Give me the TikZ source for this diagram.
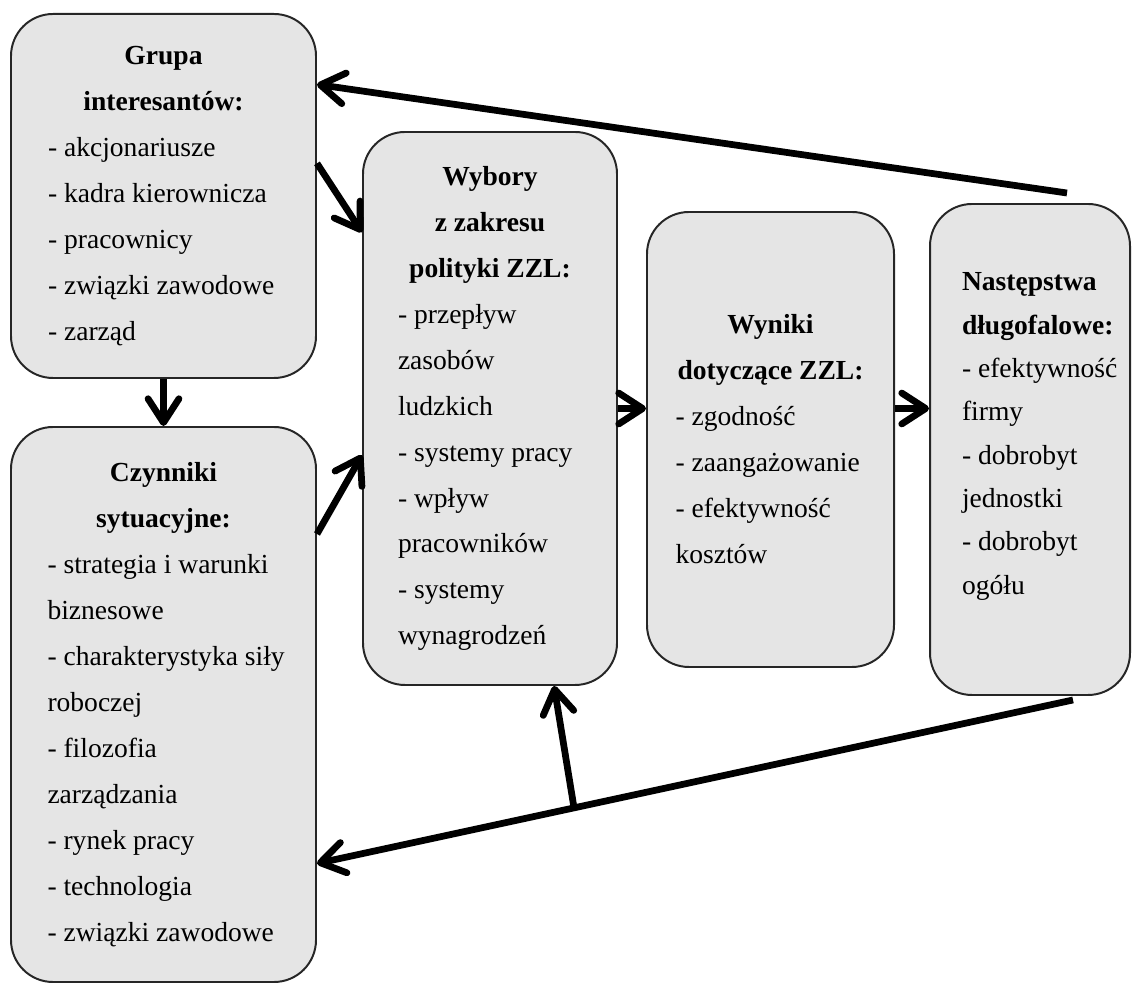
\documentclass[tikz,border=0pt]{standalone}
\usepackage{fontspec}
\setmainfont{Liberation Serif}
\usetikzlibrary{positioning, arrows.meta, calc}
\hyphenpenalty=10000
\exhyphenpenalty=10000

\begin{document}
\begin{tikzpicture}[font=\fontsize{19.6}{32.7}\selectfont]

        % Styles
        \tikzstyle{box} = [draw=black!85, fill=black!10, line width=1.4pt, rounded corners=1.05cm, inner sep=0pt, align=flush left]
        \tikzstyle{arr} = [line width=4.8pt, -{Straight Barb[round, length=17pt, width=22pt]}]

        % Frame
        \useasboundingbox (0,0) rectangle (28.3,24.6);

        % --- LEFT: STAKEHOLDERS AND SITUATION ---
        \node[box, minimum width=7.625cm, minimum height=9.1cm, text width=5.775cm] (A) at (4.0875, 19.7) {
            {\centering\textbf{Grupa}\\ \textbf{interesantów:}\par}
            - akcjonariusze\\
            \mbox{- kadra kierownicza}\\
            - pracownicy\\
            \mbox{- związki zawodowe}\\
            - zarząd};

        \node[box, minimum width=7.625cm, minimum height=13.875cm, text width=5.8cm] (B) at (4.0875, 6.9875) {
            {\centering\textbf{Czynniki}\\ \textbf{sytuacyjne:}\par}
            \mbox{- strategia i warunki}\\
            biznesowe\\
            \mbox{- charakterystyka siły}\\
            roboczej\\
            - filozofia\\
            zarządzania\\
            - rynek pracy\\
            - technologia\\
            \mbox{- związki zawodowe}};

        % --- MIDDLE: POLICY CHOICES AND OUTCOMES ---
        \node[box, minimum width=6.35cm, minimum height=13.825cm, text width=4.6cm] (C) at (12.25, 14.3875) {
            {\centering\textbf{Wybory}\\ \textbf{z zakresu}\\ \textbf{polityki ZZL:}\par}
            - przepływ\\
            zasobów\\
            ludzkich\\
            \mbox{- systemy pracy}\\
            - wpływ\\
            pracowników\\
            - systemy\\
            wynagrodzeń};

        \node[box, minimum width=6.175cm, minimum height=11.375cm, text width=4.75cm] (D) at (19.2625, 13.6125) {
            {\centering\textbf{Wyniki}\\ \textbf{dotyczące ZZL:}\par}
            - zgodność\\
            \mbox{- zaangażowanie}\\
            - efektywność\\
            kosztów};

        % --- RIGHT: LONG-TERM CONSEQUENCES ---
        \node[box, minimum width=5.0cm, minimum height=12.275cm, text width=3.4cm, font=\fontsize{19.6}{30.8}\selectfont] (E) at (25.75, 13.3625) {
            \mbox{\textbf{Następstwa}}\\
            \mbox{\textbf{długofalowe:}}\\
            \mbox{- efektywność}\\
            firmy\\
            - dobrobyt\\
            jednostki\\
            - dobrobyt\\
            ogółu\rule[-0.8cm]{0pt}{0.1cm}};

        % --- ARROWS ---
        \coordinate (Etop) at ($(E.north)+(0.925,0.25)$);
        \coordinate (Ebot) at ($(E.south)+(1.075,-0.1)$);

        \draw[arr] (Etop) -- (A.36);
        \draw[arr] (A.12) -- (C.126);
        \draw[arr] (A.south) -- (B.north);
        \draw[arr] (B.48) -- (C.200);
        \draw[arr] (C.east) -- (D.west |- C.east);
        \draw[arr] (D.east |- C.east) -- (E.west |- C.east);
        \draw[arr] (Ebot) -- coordinate[pos=0.66] (J) (B.314.4);
        \draw[arr] (J) -- (C.283);

    \end{tikzpicture}
\end{document}
